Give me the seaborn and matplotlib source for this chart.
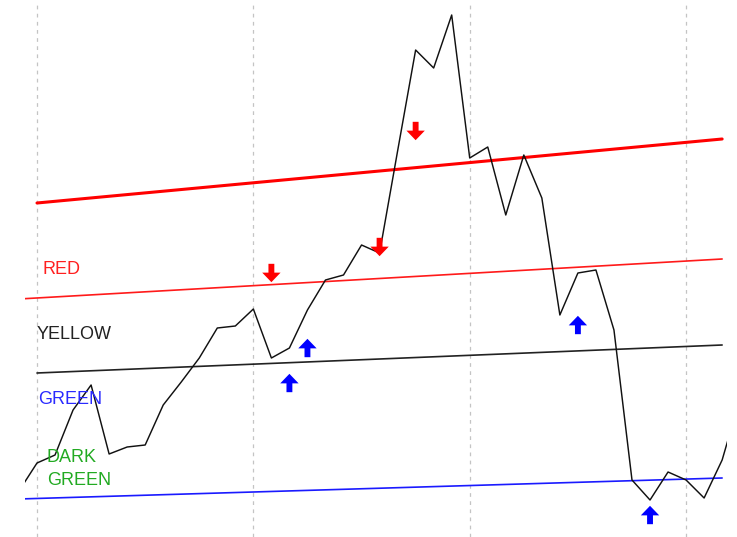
import matplotlib
matplotlib.use("Agg")
import matplotlib.pyplot as plt
from matplotlib.path import Path
import seaborn as sns
import pandas as pd

# ---- data ----
bar_index = list(range(-1, 40))
close = [4.6, 7.4, 8.2, 12.7, 15.2, 8.3, 9.0, 9.2, 13.2, 15.5, 17.9, 20.9, 21.1,
         22.8, 17.9, 18.9, 22.7, 25.7, 26.2, 29.2, 28.4, 38.6, 48.7, 46.9, 52.2,
         37.9, 39.0, 32.2, 38.2, 33.9, 22.2, 26.4, 26.7, 20.7, 5.7, 3.7, 6.5,
         5.7, 3.9, 7.7, 13.9]

# channel lines: (start index, start value, end index, end value)
channel_names = ["upper", "RED", "YELLOW", "GREEN"]
channel_x0 = [0, -1, 0, -1]
channel_y0 = [33.4, 23.8, 16.4, 3.8]
channel_x1 = [38, 38, 38, 38]
channel_y1 = [39.8, 27.8, 19.2, 5.9]
channel_colors = ["#ff0000", "#ff1a1a", "#222222", "#1a1aff"]
channel_widths = [2.2, 1.2, 1.2, 1.2]

# zone labels
label_texts = ["RED", "YELLOW", "GREEN", "DARK\nGREEN"]
label_x = [0.33, 0.0, 0.05, 0.55]
label_y = [26.3, 19.8, 13.3, 5.2]
label_colors = ["#ff2020", "#222222", "#2a2aff", "#22aa22"]

# signals
sell_x = [13, 19, 21]
sell_y = [26.4, 29.0, 40.6]
buy_x = [14, 15, 30, 34]
buy_y = [15.4, 18.9, 21.2, 2.2]

grid_x = [0, 12, 24, 36]

# ---- plot ----
sns.set_theme(style="white")
plt.rcParams["font.family"] = ["Liberation Sans", "DejaVu Sans"]

fig = plt.figure(figsize=(7.37, 5.37), dpi=100)
ax = fig.add_axes([25 / 737, 0, 702 / 737, 532 / 537])

for name, x0, y0, x1, y1, c, w in zip(channel_names, channel_x0, channel_y0,
                                      channel_x1, channel_y1, channel_colors,
                                      channel_widths):
    d = pd.DataFrame({"x": [x0, x1], "y": [y0, y1]})
    sns.lineplot(data=d, x="x", y="y", color=c, linewidth=w, ax=ax, zorder=2)

price = pd.DataFrame({"x": bar_index, "y": close})
sns.lineplot(data=price, x="x", y="y", color="#111111", linewidth=1.05, ax=ax,
             zorder=3)

down_arrow = Path([(-0.16, 0.5), (0.16, 0.5), (0.16, 0.02), (0.5, 0.02),
                   (0.0, -0.5), (-0.5, 0.02), (-0.16, 0.02), (-0.16, 0.5)],
                  [Path.MOVETO] + [Path.LINETO] * 6 + [Path.CLOSEPOLY])
up_arrow = Path([(x, -y) for x, y in down_arrow.vertices], down_arrow.codes)

sns.scatterplot(x=sell_x, y=sell_y, marker=down_arrow, s=175, color="#ff0000",
                edgecolor="none", linewidth=0, ax=ax, zorder=4)
sns.scatterplot(x=buy_x, y=buy_y, marker=up_arrow, s=175, color="#0000ff",
                edgecolor="none", linewidth=0, ax=ax, zorder=4)

for t, x, y, c in zip(label_texts, label_x, label_y, label_colors):
    ax.text(x, y, t, color=c, fontsize=13, ha="left", va="baseline",
            linespacing=1.45, zorder=5)

ax.set_xlim(-12 / 18.03, 690 / 18.03)
ax.set_ylim(0, 53.2)
ax.set_xticks(grid_x)
ax.set_yticks([])
ax.set_xticklabels([])
ax.tick_params(length=0)
ax.xaxis.grid(True, color="#c4c4c4", linestyle=(0, (3, 3.5)), linewidth=0.9)
ax.set_axisbelow(True)
ax.set_xlabel("")
ax.set_ylabel("")
for s in ax.spines.values():
    s.set_visible(False)

fig.savefig("out.png", dpi=100)
